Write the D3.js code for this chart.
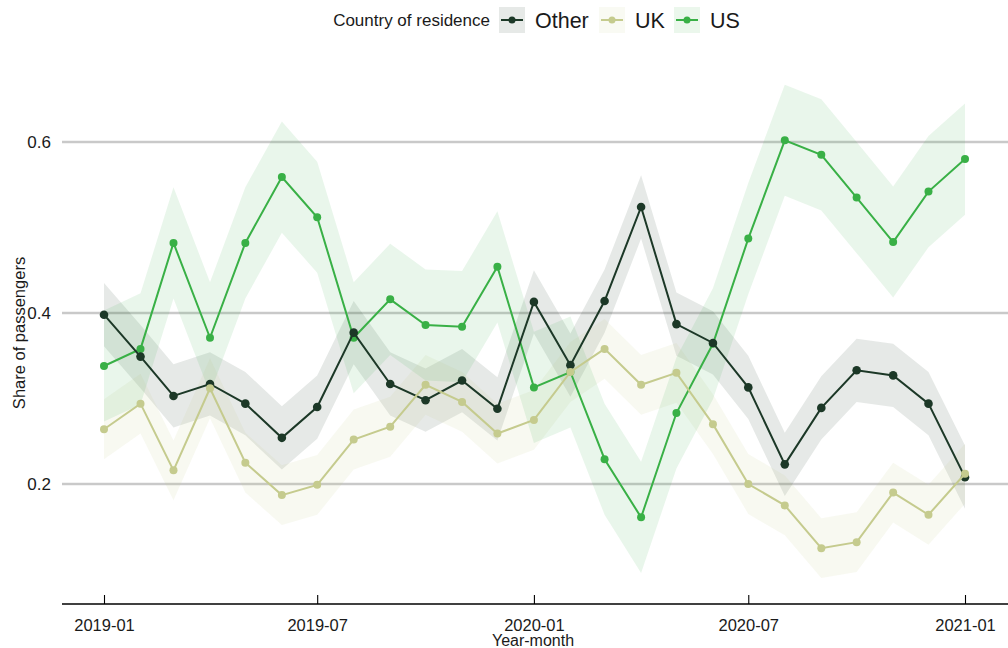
<!DOCTYPE html>
<html>
<head>
<meta charset="utf-8">
<script src="https://cdn.jsdelivr.net/npm/d3@7/dist/d3.min.js"></script>
<style>
  html, body { margin: 0; padding: 0; background: #fff; }
  svg { display: block; font-family: "Liberation Sans", Arial, sans-serif; }
</style>
</head>
<body>
<svg id="chart" width="1008" height="648"></svg>
<script>
// Monthly share of passengers by country of residence, with confidence bands
const months = ["2019-01","2019-02","2019-03","2019-04","2019-05","2019-06","2019-07","2019-08","2019-09","2019-10","2019-11","2019-12",
                "2020-01","2020-02","2020-03","2020-04","2020-05","2020-06","2020-07","2020-08","2020-09","2020-10","2020-11","2020-12","2021-01"];

const otherShare = [0.398,0.349,0.303,0.317,0.294,0.254,0.290,0.377,0.317,0.298,0.321,0.288,0.413,0.339,0.414,0.524,0.387,0.365,0.313,0.223,0.289,0.333,0.327,0.294,0.208];
const otherLow   = [0.361,0.312,0.266,0.280,0.257,0.217,0.253,0.340,0.280,0.261,0.284,0.251,0.376,0.302,0.377,0.487,0.350,0.328,0.276,0.186,0.252,0.296,0.290,0.257,0.171];
const otherHigh  = [0.435,0.386,0.340,0.354,0.331,0.291,0.327,0.414,0.354,0.335,0.358,0.325,0.450,0.376,0.451,0.561,0.424,0.402,0.350,0.260,0.326,0.370,0.364,0.331,0.245];

const ukShare = [0.264,0.294,0.216,0.312,0.225,0.187,0.199,0.252,0.267,0.316,0.296,0.259,0.275,0.331,0.358,0.316,0.330,0.270,0.200,0.175,0.125,0.132,0.190,0.164,0.212];
const ukLow   = [0.229,0.259,0.181,0.277,0.190,0.152,0.164,0.217,0.232,0.281,0.261,0.224,0.240,0.296,0.323,0.281,0.295,0.235,0.165,0.140,0.090,0.097,0.155,0.129,0.177];
const ukHigh  = [0.299,0.329,0.251,0.347,0.260,0.222,0.234,0.287,0.302,0.351,0.331,0.294,0.310,0.366,0.393,0.351,0.365,0.305,0.235,0.210,0.160,0.167,0.225,0.199,0.247];

const usShare = [0.338,0.358,0.482,0.371,0.482,0.559,0.512,0.371,0.416,0.386,0.384,0.454,0.313,0.331,0.229,0.161,0.283,0.364,0.487,0.602,0.585,0.535,0.483,0.542,0.580];
const usLow   = [0.273,0.293,0.417,0.306,0.417,0.494,0.447,0.306,0.351,0.321,0.319,0.389,0.248,0.266,0.164,0.096,0.218,0.299,0.422,0.537,0.520,0.470,0.418,0.477,0.515];
const usHigh  = [0.403,0.423,0.547,0.436,0.547,0.624,0.577,0.436,0.481,0.451,0.449,0.519,0.378,0.396,0.294,0.226,0.348,0.429,0.552,0.667,0.650,0.600,0.548,0.607,0.645];

const seriesNames = ["Other", "UK", "US"];
const xTickLabels = ["2019-01","2019-07","2020-01","2020-07","2021-01"];
const yTickValues = [0.2, 0.4, 0.6];

const colors = { Other: "#1c3827", UK: "#c5cb8e", US: "#39b046" };
const bandOpacity = { Other: 0.11, UK: 0.12, US: 0.11 };

const parseMonth = d3.timeParse("%Y-%m");
const fmtTick = d3.timeFormat("%Y-%m");

const series = [
  { name: "Other", share: otherShare, low: otherLow, high: otherHigh },
  { name: "UK",    share: ukShare,    low: ukLow,    high: ukHigh },
  { name: "US",    share: usShare,    low: usLow,    high: usHigh }
].map(s => ({
  name: s.name,
  points: months.map((m, i) => ({ date: parseMonth(m), v: s.share[i], lo: s.low[i], hi: s.high[i] }))
}));

const svg = d3.select("#chart");

const x = d3.scaleTime()
  .domain([parseMonth(months[0]), parseMonth(months[months.length - 1])])
  .range([104, 965]);

const y = d3.scaleLinear()
  .domain([0.2, 0.6])
  .range([484, 142]);

const panelLeft = 62, panelRight = 1008, axisY = 604;

// horizontal gridlines
svg.append("g")
  .selectAll("line")
  .data(yTickValues)
  .join("line")
  .attr("x1", panelLeft).attr("x2", panelRight)
  .attr("y1", d => y(d)).attr("y2", d => y(d))
  .attr("stroke", "#c9c9c9")
  .attr("stroke-width", 2.4);

// y tick labels
svg.append("g")
  .selectAll("text")
  .data(yTickValues)
  .join("text")
  .attr("x", 51).attr("y", d => y(d))
  .attr("dy", "0.36em")
  .attr("text-anchor", "end")
  .attr("font-size", 17)
  .attr("fill", "#1a1a1a")
  .text(d => d3.format(".1f")(d));

// y axis title
svg.append("text")
  .attr("transform", "translate(25,333) rotate(-90)")
  .attr("text-anchor", "middle")
  .attr("font-size", 16.5)
  .attr("fill", "#1a1a1a")
  .text("Share of passengers");

// x axis
const xAxis = d3.axisBottom(x)
  .tickValues(xTickLabels.map(parseMonth))
  .tickFormat(fmtTick)
  .tickSizeInner(-9)
  .tickSizeOuter(0)
  .tickPadding(15);

const gx = svg.append("g")
  .attr("transform", `translate(0,${axisY})`)
  .call(xAxis);
gx.select(".domain").remove();
gx.selectAll(".tick line").attr("stroke", "#000").attr("stroke-width", 1.1);
gx.selectAll(".tick text")
  .attr("font-size", 16.5)
  .attr("fill", "#1a1a1a")
  .attr("font-family", "'Liberation Sans', Arial, sans-serif");
svg.append("line")
  .attr("x1", panelLeft).attr("x2", panelRight)
  .attr("y1", axisY).attr("y2", axisY)
  .attr("stroke", "#000").attr("stroke-width", 1.6);

svg.append("text")
  .attr("x", 533).attr("y", 646)
  .attr("text-anchor", "middle")
  .attr("font-size", 16)
  .attr("fill", "#1a1a1a")
  .text("Year-month");

// confidence bands
const area = d3.area()
  .x(d => x(d.date))
  .y0(d => y(d.lo))
  .y1(d => y(d.hi));

svg.append("g")
  .selectAll("path")
  .data(series)
  .join("path")
  .attr("d", s => area(s.points))
  .attr("fill", s => colors[s.name])
  .attr("fill-opacity", s => bandOpacity[s.name]);

// lines and points
const line = d3.line()
  .x(d => x(d.date))
  .y(d => y(d.v));

const drawOrder = ["US", "Other", "UK"];
drawOrder.forEach(name => {
  const s = series.find(d => d.name === name);
  const g = svg.append("g");
  g.append("path")
    .attr("d", line(s.points))
    .attr("fill", "none")
    .attr("stroke", colors[name])
    .attr("stroke-width", 2);
  g.selectAll("circle")
    .data(s.points)
    .join("circle")
    .attr("cx", d => x(d.date))
    .attr("cy", d => y(d.v))
    .attr("r", name === "Other" ? 4.3 : 4)
    .attr("fill", colors[name]);
});

// legend
const legend = svg.append("g");
legend.append("text")
  .attr("x", 490).attr("y", 20)
  .attr("dy", "0.36em")
  .attr("text-anchor", "end")
  .attr("font-size", 17)
  .attr("fill", "#1a1a1a")
  .text("Country of residence");

const legendX = { Other: 499, UK: 599, US: 674 };
seriesNames.forEach(name => {
  const lx = legendX[name];
  const item = legend.append("g").attr("transform", `translate(${lx},7)`);
  item.append("rect")
    .attr("width", 26).attr("height", 26)
    .attr("fill", colors[name])
    .attr("fill-opacity", name === "Other" ? 0.11 : 0.1);
  item.append("line")
    .attr("x1", 2).attr("x2", 24)
    .attr("y1", 13).attr("y2", 13)
    .attr("stroke", colors[name]).attr("stroke-width", 2);
  item.append("circle")
    .attr("cx", 13).attr("cy", 13).attr("r", 3.5)
    .attr("fill", colors[name]);
  item.append("text")
    .attr("x", 36).attr("y", 13)
    .attr("dy", "0.36em")
    .attr("font-size", 21.5)
    .attr("fill", "#1a1a1a")
    .text(name);
});
</script>
</body>
</html>
